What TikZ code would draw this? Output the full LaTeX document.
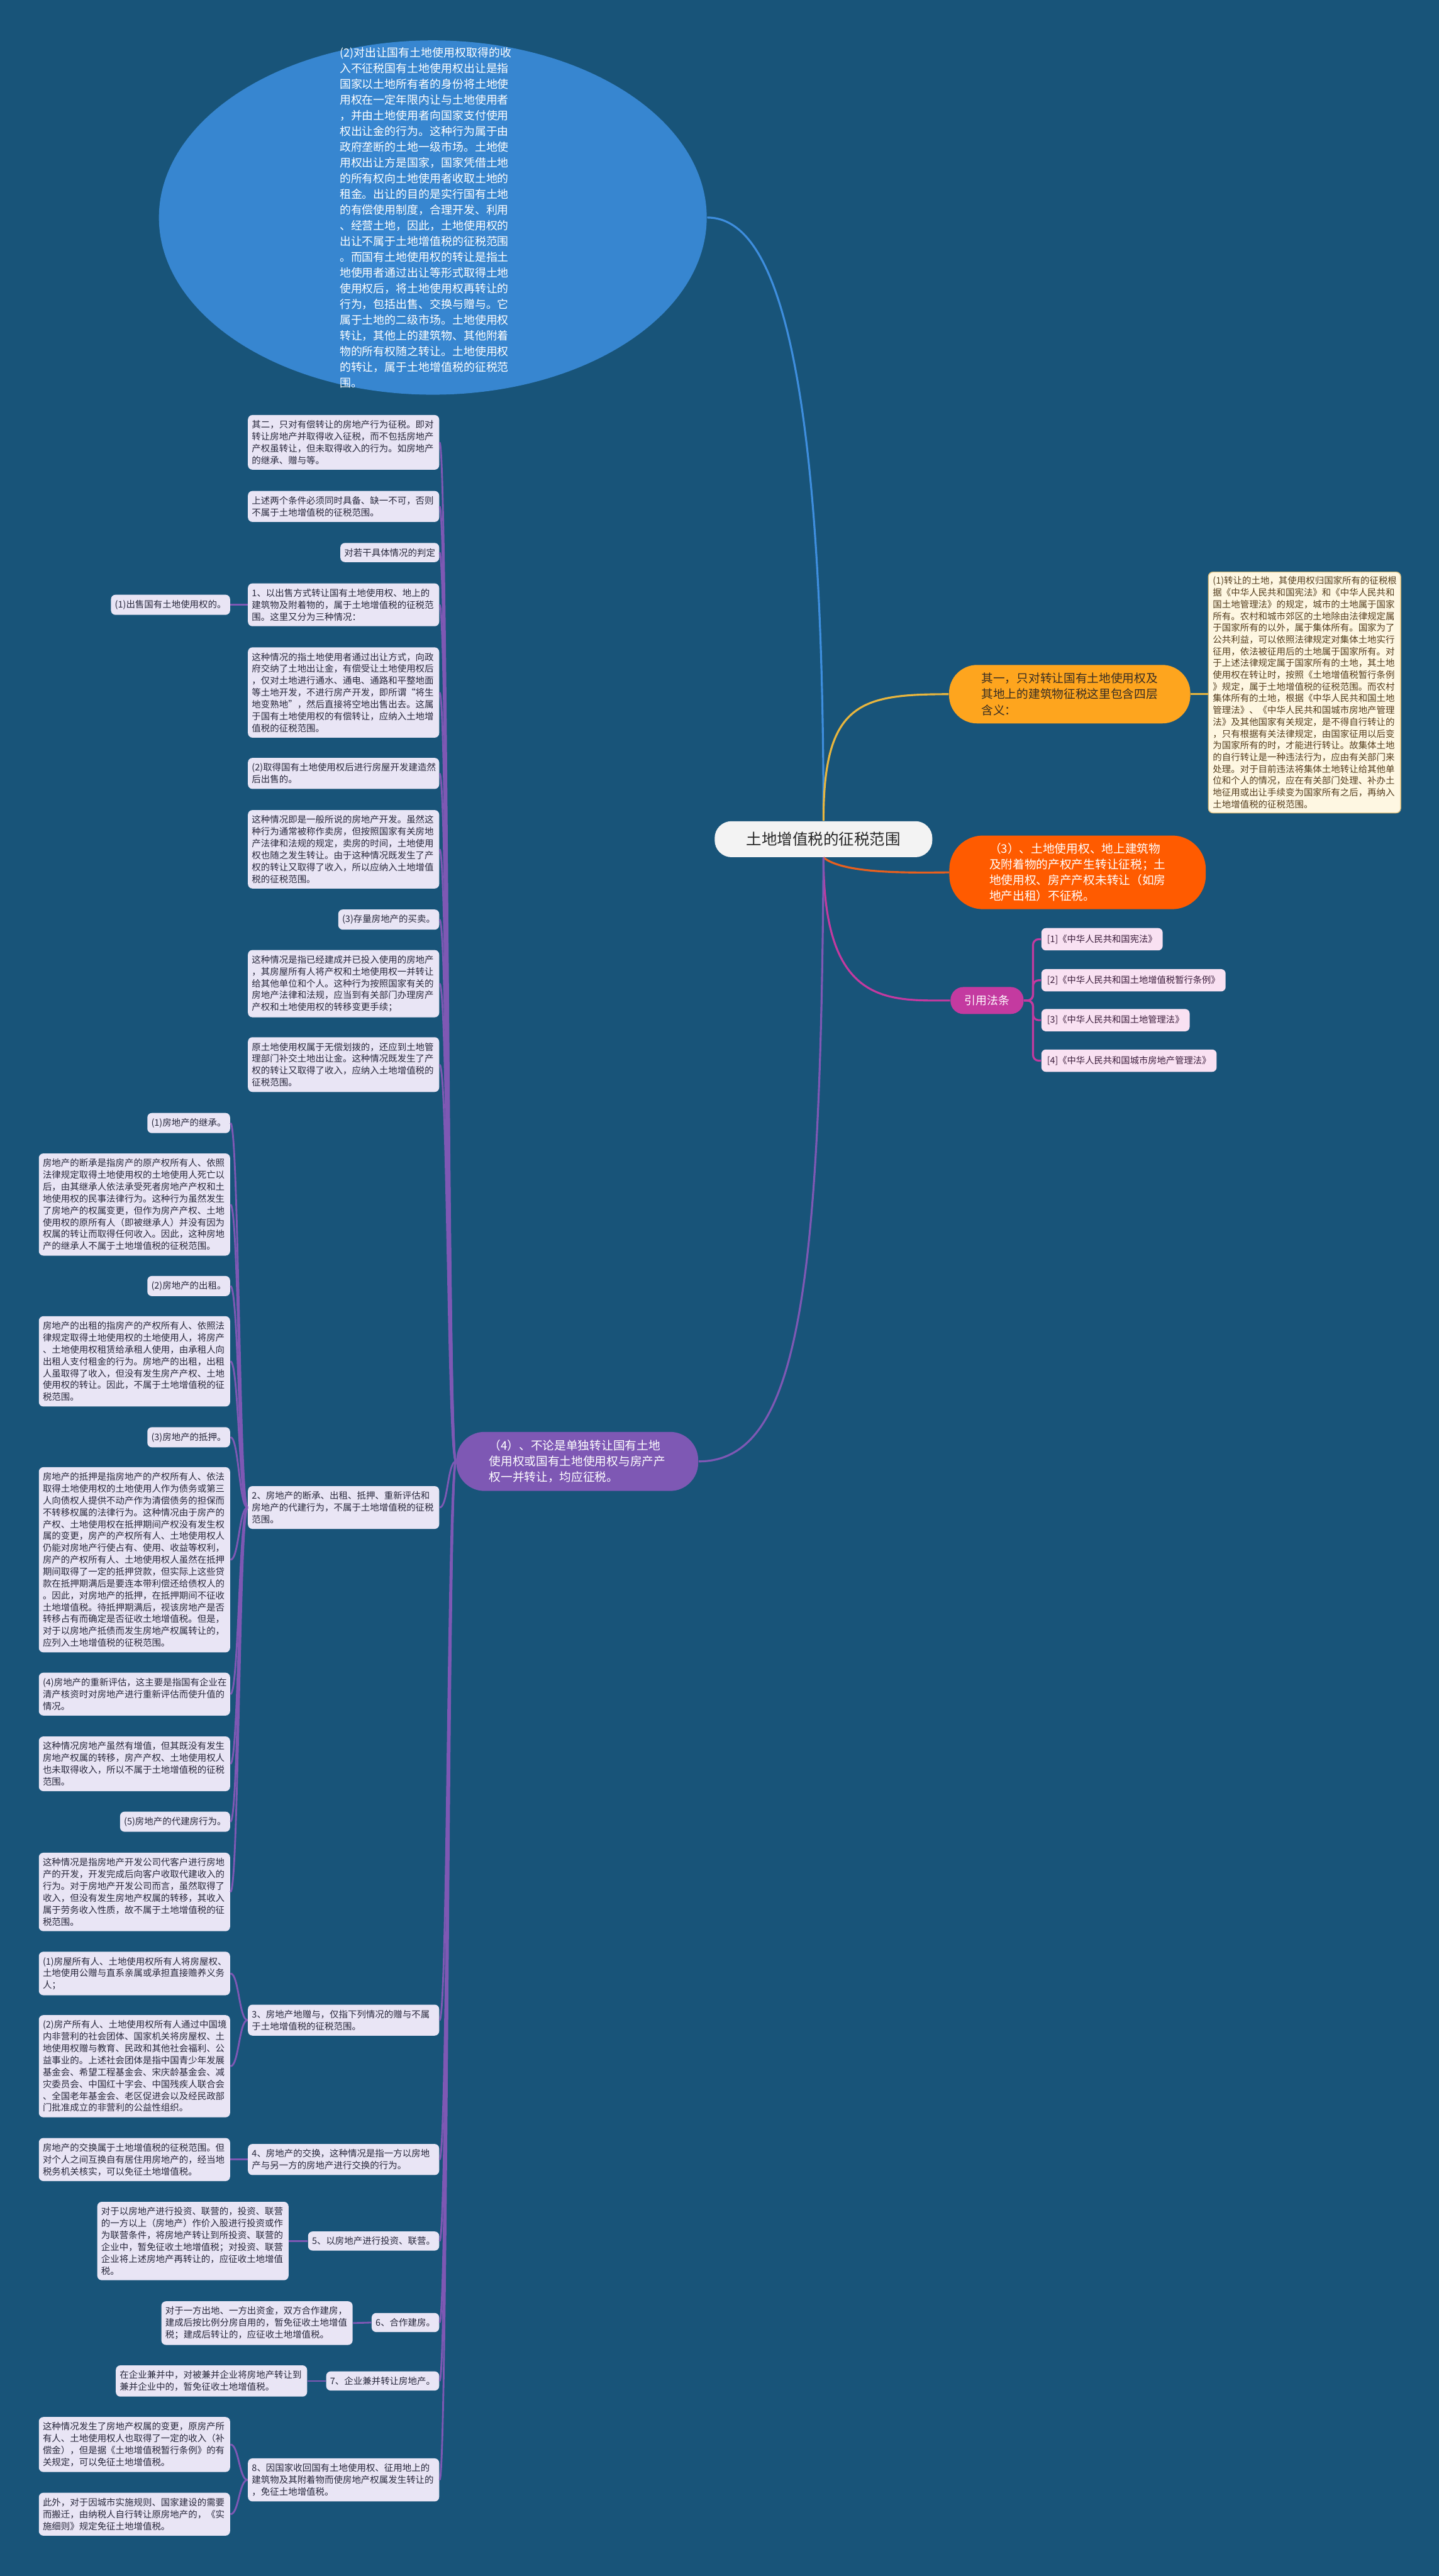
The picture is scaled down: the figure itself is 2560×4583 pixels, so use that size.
\documentclass[tikz,border=0pt]{standalone}
\usepackage{fontspec}
\setmainfont{Noto Sans CJK SC}
\usetikzlibrary{shapes.geometric}
\definecolor{bgblue}{RGB}{24,84,121}
\definecolor{ellblue}{RGB}{55,134,208}
\definecolor{coregray}{RGB}{243,243,243}
\definecolor{coreink}{RGB}{40,40,40}
\definecolor{oneorange}{RGB}{254,165,30}
\definecolor{oneink}{RGB}{55,45,35}
\definecolor{threered}{RGB}{255,91,0}
\definecolor{fourpurple}{RGB}{126,88,180}
\definecolor{citemag}{RGB}{196,58,160}
\definecolor{leaflav}{RGB}{233,229,245}
\definecolor{leafink}{RGB}{40,40,60}
\definecolor{lawpink}{RGB}{249,225,242}
\definecolor{lawink}{RGB}{60,30,60}
\definecolor{notecream}{RGB}{254,247,226}
\definecolor{noteedge}{RGB}{214,186,122}
\definecolor{noteink}{RGB}{85,62,30}
\definecolor{blueline}{RGB}{62,142,222}
\definecolor{goldline}{RGB}{232,182,62}
\definecolor{redline}{RGB}{232,96,30}
\begin{document}
\begin{tikzpicture}[x=0.01cm, y=-0.01cm,
  leaf/.style={fill=leaflav, text=leafink, rounded corners=0.08cm, inner xsep=0.07cm, inner ysep=2.7pt, align=left, font=\fontsize{4.6}{6}\selectfont},
  wide/.style={leaf, text width=3.26cm},
  pill/.style={inner sep=0pt, align=left, font=\fontsize{5.95}{8}\selectfont},
  law/.style={anchor=west, fill=lawpink, text=lawink, rounded corners=0.08cm, inner xsep=0.1cm, minimum height=0.37cm, font=\fontsize{4.55}{6}\selectfont},
  note/.style={anchor=north west, fill=notecream, draw=noteedge, line width=0.4pt, text=noteink, rounded corners=0.08cm, text width=3.26cm, inner xsep=0.08cm, inner ysep=0.08cm, align=left, font=\fontsize{4.6}{5.95}\selectfont},
  bough/.style={line width=1pt},
  twig/.style={draw=fourpurple, line width=0.9pt}]
\useasboundingbox (0,0) rectangle (2560,4583);
\fill[bgblue] (0,0) rectangle (2560,4583);

\node[ellipse, fill=ellblue, minimum width=9.74cm, minimum height=6.3cm] (ell) at (770,387) {};
\node[align=left, text=white, font=\fontsize{5.7}{7.95}\selectfont] (elltxt) at (757,387) {(2)对出让国有土地使用权取得的收\\入不征税国有土地使用权出让是指\\国家以土地所有者的身份将土地使\\用权在一定年限内让与土地使用者\\，并由土地使用者向国家支付使用\\权出让金的行为。这种行为属于由\\政府垄断的土地一级市场。土地使\\用权出让方是国家，国家凭借土地\\的所有权向土地使用者收取土地的\\租金。出让的目的是实行国有土地\\的有偿使用制度，合理开发、利用\\、经营土地，因此，土地使用权的\\出让不属于土地增值税的征税范围\\。而国有土地使用权的转让是指土\\地使用者通过出让等形式取得土地\\使用权后，将土地使用权再转让的\\行为，包括出售、交换与赠与。它\\属于土地的二级市场。土地使用权\\转让，其他上的建筑物、其他附着\\物的所有权随之转让。土地使用权\\的转让，属于土地增值税的征税范\\围。};

\node[fill=coregray, text=coreink, minimum width=3.87cm, minimum height=0.64cm, rounded corners=0.3cm, font=\fontsize{7.8}{9}\selectfont] (core) at (1465,1493) {土地增值税的征税范围};

\node[pill, fill=oneorange, text=oneink, minimum width=4.29cm, minimum height=1.04cm, rounded corners=0.5cm] (one) at (1903,1235) {其一，只对转让国有土地使用权及\\其地上的建筑物征税这里包含四层\\含义：};
\node[note] (note) at (2149,1017) {(1)转让的土地，其使用权归国家所有的征税根\\据《中华人民共和国宪法》和《中华人民共和\\国土地管理法》的规定，城市的土地属于国家\\所有。农村和城市郊区的土地除由法律规定属\\于国家所有的以外，属于集体所有。国家为了\\公共利益，可以依照法律规定对集体土地实行\\征用，依法被征用后的土地属于国家所有。对\\于上述法律规定属于国家所有的土地，其土地\\使用权在转让时，按照《土地增值税暂行条例\\》规定，属于土地增值税的征税范围。而农村\\集体所有的土地，根据《中华人民共和国土地\\管理法》、《中华人民共和国城市房地产管理\\法》及其他国家有关规定，是不得自行转让的\\，只有根据有关法律规定，由国家征用以后变\\为国家所有的时，才能进行转让。故集体土地\\的自行转让是一种违法行为，应由有关部门来\\处理。对于目前违法将集体土地转让给其他单\\位和个人的情况，应在有关部门处理、补办土\\地征用或出让手续变为国家所有之后，再纳入\\土地增值税的征税范围。};
\node[pill, fill=threered, text=white, minimum width=4.56cm, minimum height=1.31cm, rounded corners=0.6cm] (three) at (1917,1552) {（3）、土地使用权、地上建筑物\\及附着物的产权产生转让征税；土\\地使用权、房产产权未转让（如房\\地产出租）不征税。};
\node[pill, fill=citemag, text=white, minimum width=1.3cm, minimum height=0.48cm, rounded corners=0.23cm, font=\fontsize{5.7}{7}\selectfont] (cite) at (1756,1780) {引用法条};
\node[law] (law1) at (1852,1671) {[1]《中华人民共和国宪法》};
\node[law] (law2) at (1852,1744) {[2]《中华人民共和国土地增值税暂行条例》};
\node[law] (law3) at (1852,1815) {[3]《中华人民共和国土地管理法》};
\node[law] (law4) at (1852,1887) {[4]《中华人民共和国城市房地产管理法》};
\node[pill, fill=fourpurple, text=white, minimum width=4.3cm, minimum height=1.05cm, rounded corners=0.5cm] (four) at (1027,2600) {（4）、不论是单独转让国有土地\\使用权或国有土地使用权与房产产\\权一并转让，均应征税。};

\node[wide, anchor=east] (m1) at (782,787) {其二，只对有偿转让的房地产行为征税。即对\\转让房地产并取得收入征税，而不包括房地产\\产权虽转让，但未取得收入的行为。如房地产\\的继承、赠与等。};
\node[wide, anchor=east] (m2) at (782,901) {上述两个条件必须同时具备、缺一不可，否则\\不属于土地增值税的征税范围。};
\node[leaf, anchor=east] (m3) at (782,983) {对若干具体情况的判定};
\node[wide, anchor=east] (m4) at (782,1076) {1、以出售方式转让国有土地使用权、地上的\\建筑物及附着物的，属于土地增值税的征税范\\围。这里又分为三种情况：};
\node[wide, anchor=east] (m5) at (782,1232) {这种情况的指土地使用者通过出让方式，向政\\府交纳了土地出让金，有偿受让土地使用权后\\，仅对土地进行通水、通电、通路和平整地面\\等土地开发，不进行房产开发，即所谓“将生\\地变熟地”，然后直接将空地出售出去。这属\\于国有土地使用权的有偿转让，应纳入土地增\\值税的征税范围。};
\node[wide, anchor=east] (m6) at (782,1376) {(2)取得国有土地使用权后进行房屋开发建造然\\后出售的。};
\node[wide, anchor=east] (m7) at (782,1511) {这种情况即是一般所说的房地产开发。虽然这\\种行为通常被称作卖房，但按照国家有关房地\\产法律和法规的规定，卖房的时间，土地使用\\权也随之发生转让。由于这种情况既发生了产\\权的转让又取得了收入，所以应纳入土地增值\\税的征税范围。};
\node[leaf, anchor=east] (m8) at (782,1636) {(3)存量房地产的买卖。};
\node[wide, anchor=east] (m9) at (782,1750) {这种情况是指已经建成并已投入使用的房地产\\，其房屋所有人将产权和土地使用权一并转让\\给其他单位和个人。这种行为按照国家有关的\\房地产法律和法规，应当到有关部门办理房产\\产权和土地使用权的转移变更手续；};
\node[wide, anchor=east] (m10) at (782,1894) {原土地使用权属于无偿划拨的，还应到土地管\\理部门补交土地出让金。这种情况既发生了产\\权的转让又取得了收入，应纳入土地增值税的\\征税范围。};
\node[wide, anchor=east] (m11) at (782,2682) {2、房地产的断承、出租、抵押、重新评估和\\房地产的代建行为，不属于土地增值税的征税\\范围。};
\node[wide, anchor=east] (m12) at (782,3594) {3、房地产地赠与，仅指下列情况的赠与不属\\于土地增值税的征税范围。};
\node[wide, anchor=east] (m13) at (782,3842) {4、房地产的交换，这种情况是指一方以房地\\产与另一方的房地产进行交换的行为。};
\node[leaf, anchor=east] (m14) at (782,3987) {5、以房地产进行投资、联营。};
\node[leaf, anchor=east] (m15) at (782,4132) {6、合作建房。};
\node[leaf, anchor=east] (m16) at (782,4236) {7、企业兼并转让房地产。};
\node[wide, anchor=east] (m17) at (782,4412) {8、因国家收回国有土地使用权、征用地上的\\建筑物及其附着物而使房地产权属发生转让的\\，免征土地增值税。};

\node[leaf, anchor=east] (l0) at (410,1076) {(1)出售国有土地使用权的。};
\node[leaf, anchor=east] (l1) at (410,1998) {(1)房地产的继承。};
\node[wide, anchor=east] (l2) at (410,2143) {房地产的断承是指房产的原产权所有人、依照\\法律规定取得土地使用权的土地使用人死亡以\\后，由其继承人依法承受死者房地产产权和土\\地使用权的民事法律行为。这种行为虽然发生\\了房地产的权属变更，但作为房产产权、土地\\使用权的原所有人（即被继承人）并没有因为\\权属的转让而取得任何收入。因此，这种房地\\产的继承人不属于土地增值税的征税范围。};
\node[leaf, anchor=east] (l3) at (410,2288) {(2)房地产的出租。};
\node[wide, anchor=east] (l4) at (410,2422) {房地产的出租的指房产的产权所有人、依照法\\律规定取得土地使用权的土地使用人，将房产\\、土地使用权租赁给承租人使用，由承租人向\\出租人支付租金的行为。房地产的出租，出租\\人虽取得了收入，但没有发生房产产权、土地\\使用权的转让。因此，不属于土地增值税的征\\税范围。};
\node[leaf, anchor=east] (l5) at (410,2557) {(3)房地产的抵押。};
\node[wide, anchor=east] (l6) at (410,2775) {房地产的抵押是指房地产的产权所有人、依法\\取得土地使用权的土地使用人作为债务或第三\\人向债权人提供不动产作为清偿债务的担保而\\不转移权属的法律行为。这种情况由于房产的\\产权、土地使用权在抵押期间产权没有发生权\\属的变更，房产的产权所有人、土地使用权人\\仍能对房地产行使占有、使用、收益等权利，\\房产的产权所有人、土地使用权人虽然在抵押\\期间取得了一定的抵押贷款，但实际上这些贷\\款在抵押期满后是要连本带利偿还给债权人的\\。因此，对房地产的抵押，在抵押期间不征收\\土地增值税。待抵押期满后，视该房地产是否\\转移占有而确定是否征收土地增值税。但是，\\对于以房地产抵债而发生房地产权属转让的，\\应列入土地增值税的征税范围。};
\node[wide, anchor=east] (l7) at (410,3014) {(4)房地产的重新评估，这主要是指国有企业在\\清产核资时对房地产进行重新评估而使升值的\\情况。};
\node[wide, anchor=east] (l8) at (410,3138) {这种情况房地产虽然有增值，但其既没有发生\\房地产权属的转移，房产产权、土地使用权人\\也未取得收入，所以不属于土地增值税的征税\\范围。};
\node[leaf, anchor=east] (l9) at (410,3241) {(5)房地产的代建房行为。};
\node[wide, anchor=east] (l10) at (410,3366) {这种情况是指房地产开发公司代客户进行房地\\产的开发，开发完成后向客户收取代建收入的\\行为。对于房地产开发公司而言，虽然取得了\\收入，但没有发生房地产权属的转移，其收入\\属于劳务收入性质，故不属于土地增值税的征\\税范围。};
\node[wide, anchor=east] (l11) at (410,3511) {(1)房屋所有人、土地使用权所有人将房屋权、\\土地使用公赠与直系亲属或承担直接赡养义务\\人；};
\node[wide, anchor=east] (l12) at (410,3676) {(2)房产所有人、土地使用权所有人通过中国境\\内非营利的社会团体、国家机关将房屋权、土\\地使用权赠与教育、民政和其他社会福利、公\\益事业的。上述社会团体是指中国青少年发展\\基金会、希望工程基金会、宋庆龄基金会、减\\灾委员会、中国红十字会、中国残疾人联合会\\、全国老年基金会、老区促进会以及经民政部\\门批准成立的非营利的公益性组织。};
\node[wide, anchor=east] (l13) at (410,3842) {房地产的交换属于土地增值税的征税范围。但\\对个人之间互换自有居住用房地产的，经当地\\税务机关核实，可以免征土地增值税。};
\node[wide, anchor=east] (l14) at (514,3987) {对于以房地产进行投资、联营的，投资、联营\\的一方以上（房地产）作价入股进行投资或作\\为联营条件，将房地产转让到所投资、联营的\\企业中，暂免征收土地增值税；对投资、联营\\企业将上述房地产再转让的，应征收土地增值\\税。};
\node[wide, anchor=east] (l15) at (628,4133) {对于一方出地、一方出资金，双方合作建房，\\建成后按比例分房自用的，暂免征收土地增值\\税；建成后转让的，应征收土地增值税。};
\node[wide, anchor=east] (l16) at (547,4236) {在企业兼并中，对被兼并企业将房地产转让到\\兼并企业中的，暂免征收土地增值税。};
\node[wide, anchor=east] (l17) at (410,4349) {这种情况发生了房地产权属的变更，原房产所\\有人、土地使用权人也取得了一定的收入（补\\偿金），但是据《土地增值税暂行条例》的有\\关规定，可以免征土地增值税。};
\node[wide, anchor=east] (l18) at (410,4473) {此外，对于因城市实施规则、国家建设的需要\\而搬迁，由纳税人自行转让原房地产的，《实\\施细则》规定免征土地增值税。};

\draw[bough, blueline] (core.north) .. controls (1465,560) and (1360,387) .. (ell.east);
\draw[bough, goldline] (core.north) .. controls (1465,1250) and (1530,1235) .. (one.west);
\draw[bough, goldline] (one.east) -- (note.west |- one.east);
\draw[bough, redline] (core.south) .. controls (1500,1553) and (1600,1553) .. (three.west);
\draw[bough, citemag] (core.south) .. controls (1465,1790) and (1580,1780) .. (cite.west);
\foreach \k in {1,...,4}
  \draw[bough, citemag, rounded corners=0.1cm] (cite.east) -- ++(16,0) |- (law\k.west);
\draw[bough, fourpurple] (core.south) .. controls (1460,2300) and (1420,2600) .. (four.east);

\foreach \k in {1,...,17}
  \draw[twig] (four.west) .. controls +(-15,0) and +(15,0) .. (m\k.east);
\draw[twig] (m4.west) -- (l0.east);
\foreach \k in {1,...,10}
  \draw[twig] (m11.west) .. controls +(-15,0) and +(15,0) .. (l\k.east);
\foreach \k in {11,12}
  \draw[twig] (m12.west) .. controls +(-15,0) and +(15,0) .. (l\k.east);
\draw[twig] (m13.west) -- (l13.east);
\draw[twig] (m14.west) -- (l14.east);
\draw[twig] (m15.west) -- (l15.east);
\draw[twig] (m16.west) -- (l16.east);
\foreach \k in {17,18}
  \draw[twig] (m17.west) .. controls +(-15,0) and +(15,0) .. (l\k.east);
\end{tikzpicture}
\end{document}
